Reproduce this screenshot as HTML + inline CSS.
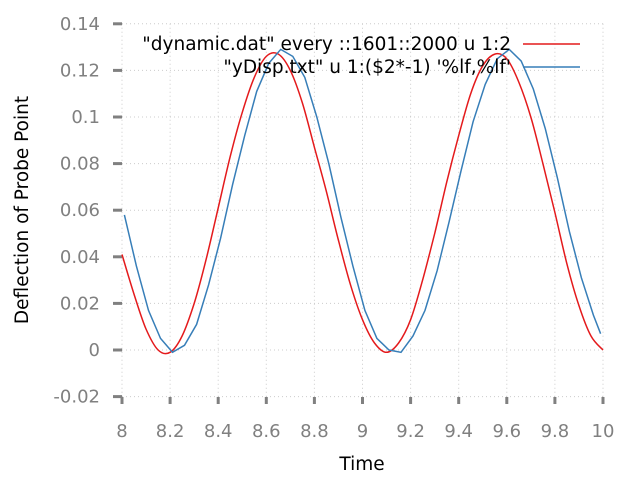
<!DOCTYPE html>
<html><head><meta charset="utf-8"><style>
body{margin:0;background:#fff;}
svg text{font-family:"DejaVu Sans","Liberation Sans",sans-serif;}
</style></head><body>
<svg id="chart" width="640" height="480" viewBox="0 0 640 480" xmlns="http://www.w3.org/2000/svg">
<g id="grid"></g>
<g id="axes"></g>
<g id="series"></g>
<text x="362" y="470" font-size="18.5" text-anchor="middle">Time</text>
<text x="0" y="0" font-size="18.5" text-anchor="middle" transform="translate(28,210) rotate(-90)">Deflection of Probe Point</text>
<g>
<text x="511" y="50" font-size="18.5" text-anchor="end">"dynamic.dat" every ::1601::2000 u 1:2</text>
<line x1="523" y1="44" x2="580" y2="44" stroke="#e41a1c" stroke-width="1.5"/>
<text x="511" y="73" font-size="18.5" text-anchor="end">"yDisp.txt" u 1:($2*-1) '%lf,%lf'</text>
<line x1="523" y1="67" x2="580" y2="67" stroke="#377eb8" stroke-width="1.5"/>
</g>
</svg>
<script>
const xTicks=[8,8.2,8.4,8.6,8.8,9,9.2,9.4,9.6,9.8,10];
const xTickLabels=["8","8.2","8.4","8.6","8.8","9","9.2","9.4","9.6","9.8","10"];
const yTicks=[-0.02,0,0.02,0.04,0.06,0.08,0.1,0.12,0.14];
const yTickLabels=["-0.02","0","0.02","0.04","0.06","0.08","0.1","0.12","0.14"];
const redX=[];for(let i=0;i<=40;i++)redX.push(8+i*0.05);
const redY=[0.041,0.024,0.009,0.000,-0.001,0.006,0.020,0.039,0.061,0.083,0.102,0.117,0.126,0.127,0.120,0.106,0.087,0.068,0.047,0.028,
0.013,0.003,-0.001,0.003,0.013,0.030,0.050,0.072,0.092,0.110,0.122,0.127,0.125,0.115,0.100,0.080,0.059,0.037,0.019,0.006,0.000];
const blueX=[8.01,8.06,8.11,8.16,8.21,8.26,8.31,8.36,8.41,8.46,8.51,8.56,8.61,8.66,8.71,8.76,8.81,8.86,8.91,8.96,9.01,9.06,9.11,9.16,9.21,9.26,9.31,9.36,9.41,9.46,9.51,9.56,9.61,9.66,9.71,9.76,9.81,9.86,9.91,9.96,9.99];
const blueY=[0.058,0.036,0.017,0.005,-0.001,0.002,0.011,0.028,0.048,0.071,0.092,0.111,0.123,0.129,0.126,0.117,0.100,0.080,0.057,0.036,0.017,0.005,0.000,-0.001,0.006,0.017,0.034,0.055,0.077,0.098,0.114,0.125,0.129,0.124,0.112,0.095,0.074,0.051,0.031,0.015,0.007];
const NS="http://www.w3.org/2000/svg";
const X0=122,X1=603,Y0=350,YPER=2330;
function sx(v){return X0+(v-8)/2*(X1-X0);}
function sy(v){return Y0-v*YPER;}
function mk(tag,attrs,parent){const e=document.createElementNS(NS,tag);for(const k in attrs)e.setAttribute(k,attrs[k]);parent.appendChild(e);return e;}
const grid=document.getElementById('grid'),axes=document.getElementById('axes'),series=document.getElementById('series');
xTicks.forEach((t,i)=>{
 const x=sx(t);
 const g=mk('line',{x1:x,y1:sy(0.14),x2:x,y2:sy(-0.02),stroke:'#ccc','stroke-width':1,'stroke-dasharray':'1,3'},grid);
 
 
 const tk=mk('line',{x1:x,y1:397,x2:x,y2:404,stroke:'#808080','stroke-width':3},axes);
 
 
 const tl=mk('text',{x:x,y:437,'font-size':18,fill:'#808080','text-anchor':'middle'},axes);
 tl.textContent=xTickLabels[i];
 
 
});
yTicks.forEach((t,i)=>{
 const y=sy(t);
 const g=mk('line',{x1:X0,y1:y,x2:X1,y2:y,stroke:'#ccc','stroke-width':1,'stroke-dasharray':'1,3'},grid);
 
 
 const tk=mk('line',{x1:113,y1:y,x2:122,y2:y,stroke:'#808080','stroke-width':3},axes);
 
 
 const tl=mk('text',{x:100,y:y+6,'font-size':18,fill:'#808080','text-anchor':'end'},axes);
 tl.textContent=yTickLabels[i];
 
 
});
function line(xs,ys,color,name,smooth){
 const P=xs.map((x,i)=>[sx(x),sy(ys[i])]);
 let d='M'+P[0][0].toFixed(1)+','+P[0][1].toFixed(1);
 for(let i=0;i<P.length-1;i++){
  if(!smooth){d+='L'+P[i+1][0].toFixed(1)+','+P[i+1][1].toFixed(1);continue;}
  const p0=P[Math.max(0,i-1)],p1=P[i],p2=P[i+1],p3=P[Math.min(P.length-1,i+2)];
  const c1=[p1[0]+(p2[0]-p0[0])/6,p1[1]+(p2[1]-p0[1])/6];
  const c2=[p2[0]-(p3[0]-p1[0])/6,p2[1]-(p3[1]-p1[1])/6];
  d+='C'+c1[0].toFixed(1)+','+c1[1].toFixed(1)+' '+c2[0].toFixed(1)+','+c2[1].toFixed(1)+' '+p2[0].toFixed(1)+','+p2[1].toFixed(1);
 }
 const p=mk('path',{d:d,fill:'none',stroke:color,'stroke-width':1.5},series);
 
 
}
line(redX,redY,'#e41a1c','dynamic-line',true);
line(blueX,blueY,'#377eb8','ydisp-line',false);
</script>
</body></html>
